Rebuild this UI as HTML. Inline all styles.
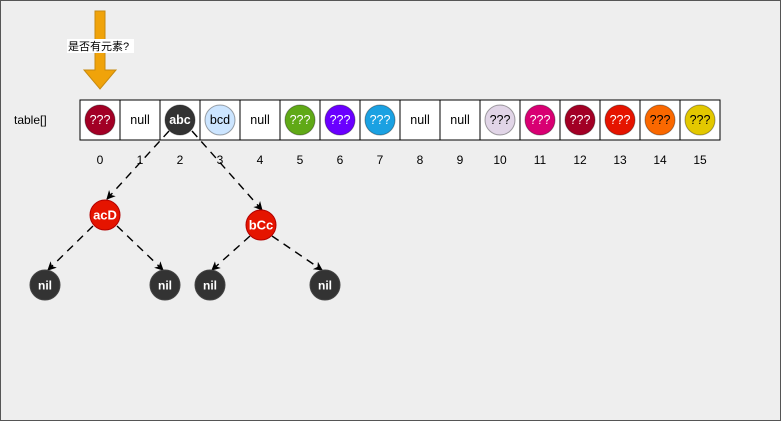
<!DOCTYPE html>
<html><head><meta charset="utf-8"><style>
body{margin:0;background:#eee;}
svg{display:block;font-family:"Liberation Sans","Noto Sans CJK SC",sans-serif;}
</style></head><body>
<svg width="781" height="421" viewBox="0 0 781 421">
<defs><marker id="ah" markerWidth="9" markerHeight="9" refX="8" refY="4.5" orient="auto" markerUnits="userSpaceOnUse"><path d="M0,0 L9,4.5 L0,9 L2.5,4.5 Z" fill="#000"/></marker></defs>
<rect x="0.5" y="0.5" width="780" height="420" fill="#eee" stroke="#555"/>
<path d="M95,11 H105 V70 H116 L100,89 L84,70 H95 Z" fill="#f0a30a" stroke="#c78a10"/>
<rect x="67" y="39" width="67" height="14" fill="#fff"/>
<text x="68" y="50" font-size="11" fill="#000">是否有元素?</text>
<text x="14" y="124" font-size="12" fill="#000">table[]</text>
<g id="cells"></g>
<g id="tree"></g>
</svg>
<script>
const labels=['???','null','abc','bcd','null','???','???','???','null','null','???','???','???','???','???','???'];
const fills=['#a20025',null,'#333333','#cce5ff',null,'#60a917','#6a00ff','#1ba1e2',null,null,'#e1d5e7','#d80073','#a20025','#e51400','#fa6800','#e3c800'];
const textColors=['#fff',null,'#fff','#000',null,'#fff','#fff','#fff',null,null,'#000','#fff','#fff','#fff','#000','#000'];
const NS='http://www.w3.org/2000/svg';
function mk(t,a,p){const e=document.createElementNS(NS,t);for(const k in a)e.setAttribute(k,a[k]);p.appendChild(e);return e;}
const cells=document.getElementById('cells');
labels.forEach((l,i)=>{
 const x=80+i*40;
 const r=mk('rect',{x:x,y:100,width:40,height:40,fill:'#fff',stroke:'#000'},cells);
 
 
 if(fills[i]){
  const c=mk('circle',{cx:x+20,cy:120,r:15,fill:fills[i],stroke:'rgba(0,0,0,0.35)'},cells);
  
  
 }
 const t=mk('text',{x:x+20,y:124,'font-size':12.5,'text-anchor':'middle',fill:textColors[i]||'#000','font-weight':(l=='abc')?'bold':'normal'},cells);
 t.textContent=l;
 
 
 const n=mk('text',{x:x+20,y:164,'font-size':12,'text-anchor':'middle',fill:'#000'},cells);
 n.textContent=String(i);
 
 
});
const tree=document.getElementById('tree');
const edges=[[169,131,107,199],[192,131,262,210],[93,226,48,270],[117,226,163,270],[250,236,212,270],[272,236,322,270]];
edges.forEach((e,i)=>{
 const l=mk('line',{x1:e[0],y1:e[1],x2:e[2],y2:e[3],stroke:'#000','stroke-width':1.4,'stroke-dasharray':'8 6','marker-end':'url(#ah)'},tree);
 
 
});
const nodes=[[105,215,'acD','#e51400'],[261,225,'bCc','#e51400'],[45,285,'nil','#333'],[165,285,'nil','#333'],[210,285,'nil','#333'],[325,285,'nil','#333']];
nodes.forEach((n,i)=>{
 const c=mk('circle',{cx:n[0],cy:n[1],r:15,fill:n[3],stroke:n[3]=='#333'?'#444':'#b20000'},tree);
 
 
 const t=mk('text',{x:n[0],y:n[1]+4.5,'font-size':n[2]=='nil'?12:13,'text-anchor':'middle',fill:'#fff','font-weight':'bold'},tree);
 t.textContent=n[2];
 
 
});
</script>
</body></html>
